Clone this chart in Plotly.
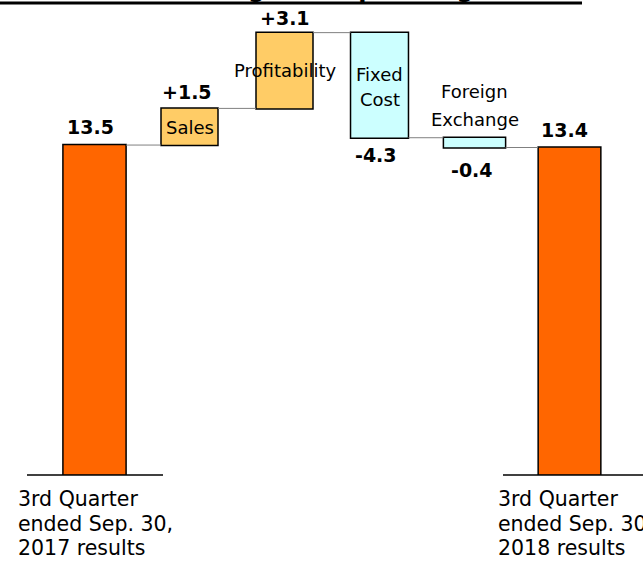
import plotly.graph_objects as go

# ---------------- data ----------------
categories = [
    "3rd Quarter<br>ended Sep. 30,<br>2017 results",
    "Sales",
    "Profitability",
    "Fixed<br>Cost",
    "Foreign<br>Exchange",
    "3rd Quarter<br>ended Sep. 30,<br>2018 results",
]
values = [13.5, 1.5, 3.1, -4.3, -0.4, 13.4]
measures = ["absolute", "relative", "relative", "relative", "relative", "total"]
value_labels = ["13.5", "+1.5", "+3.1", "-4.3", "-0.4", "13.4"]
title_text = "Breakdown of Changes in Operating Income"

# ---------------- style / layout constants ----------------
W, H = 643, 568
ML, MR, MT, MB = 47, 26, 0, 93
plot_w = W - ML - MR
plot_h = H - MT - MB
PX_PER_UNIT = 24.44
YMAX = plot_h / PX_PER_UNIT

bar_widths = [0.665, 0.60, 0.60, 0.61, 0.655, 0.66]
COL_TOTAL = "#FF6600"
COL_UP = "#FFCC66"
COL_DOWN = "#CCFFFF"
FONT = "DejaVu Sans"

val_yshift = [18.5, 16, 15, -17, -22, 17.5]
val_xshift = [-4, -3, 0, -4, -3, -5]
name_line_shift = {1: [-19], 2: [-37.5], 3: [-42, -67], 4: [46, 18.5]}
cat_line_px = [24, 48.5, 73]
cat_x_px = {0: 16, 5: 496}
base_line_px = {0: (27, 163), 5: (503, 643)}


def px_to_paper_x(px):
    return (px - ML) / plot_w


x = list(range(len(categories)))

tops, bottoms = [], []
cum = 0.0
for v, m in zip(values, measures):
    if m == "absolute":
        lo, hi = 0.0, v
        cum = v
    elif m == "total":
        lo, hi = 0.0, cum
    else:
        lo, hi = sorted([cum, cum + v])
        cum += v
    tops.append(hi)
    bottoms.append(lo)

fig = go.Figure()
fig.add_trace(go.Waterfall(
    x=x, y=values, measure=measures,
    width=bar_widths,
    increasing=dict(marker=dict(color=COL_UP, line=dict(color="black", width=1.5))),
    decreasing=dict(marker=dict(color=COL_DOWN, line=dict(color="black", width=1.5))),
    totals=dict(marker=dict(color=COL_TOTAL, line=dict(color="black", width=1.5))),
    connector=dict(mode="between", line=dict(color="#808080", width=1)),
    textinfo="none", hoverinfo="skip", cliponaxis=False,
))

ann = []
for i, lab in enumerate(value_labels):
    ref = tops[i] if val_yshift[i] > 0 else bottoms[i]
    ann.append(dict(x=x[i], y=ref, xref="x", yref="y", text="<b>%s</b>" % lab,
                    showarrow=False, xanchor="center", yanchor="middle",
                    yshift=val_yshift[i], xshift=val_xshift[i],
                    font=dict(family=FONT, size=19, color="black")))
for i, shifts in name_line_shift.items():
    lines = categories[i].split("<br>")
    for line, s in zip(lines, shifts):
        ann.append(dict(x=x[i], y=tops[i], xref="x", yref="y", text=line,
                        showarrow=False, xanchor="center", yanchor="middle",
                        yshift=s,
                        font=dict(family=FONT, size=18, color="black")))
for i, px in cat_x_px.items():
    lines = categories[i].split("<br>")
    for line, s in zip(lines, cat_line_px):
        ann.append(dict(x=px_to_paper_x(px), y=0, xref="paper", yref="y",
                        text=line, showarrow=False, xanchor="left", yanchor="middle",
                        yshift=-s, font=dict(family=FONT, size=20.5, color="black")))
# title, cut off at the top edge of the image
ann.append(dict(x=px_to_paper_x(582), y=1 + 11 / plot_h, xref="paper", yref="paper",
                text="<b>%s</b>" % title_text, showarrow=False,
                xanchor="right", yanchor="middle",
                font=dict(family=FONT, size=24, color="black")))

shapes = []
for i, (a, b) in base_line_px.items():
    shapes.append(dict(type="line", xref="paper", yref="paper",
                       x0=px_to_paper_x(a), x1=px_to_paper_x(b), y0=0, y1=0,
                       line=dict(color="black", width=1.5)))
shapes.append(dict(type="line", xref="paper", yref="paper", x0=px_to_paper_x(0),
                   x1=px_to_paper_x(582), y0=1 - 3 / plot_h, y1=1 - 3 / plot_h,
                   line=dict(color="black", width=3)))

fig.update_layout(
    width=W, height=H,
    margin=dict(l=ML, r=MR, t=MT, b=MB, pad=0),
    paper_bgcolor="white", plot_bgcolor="white",
    showlegend=False,
    xaxis=dict(range=[-0.5, 5.5], visible=False, fixedrange=True),
    yaxis=dict(range=[0, YMAX], visible=False, fixedrange=True),
    annotations=ann, shapes=shapes,
)

fig.write_html("out.html")
